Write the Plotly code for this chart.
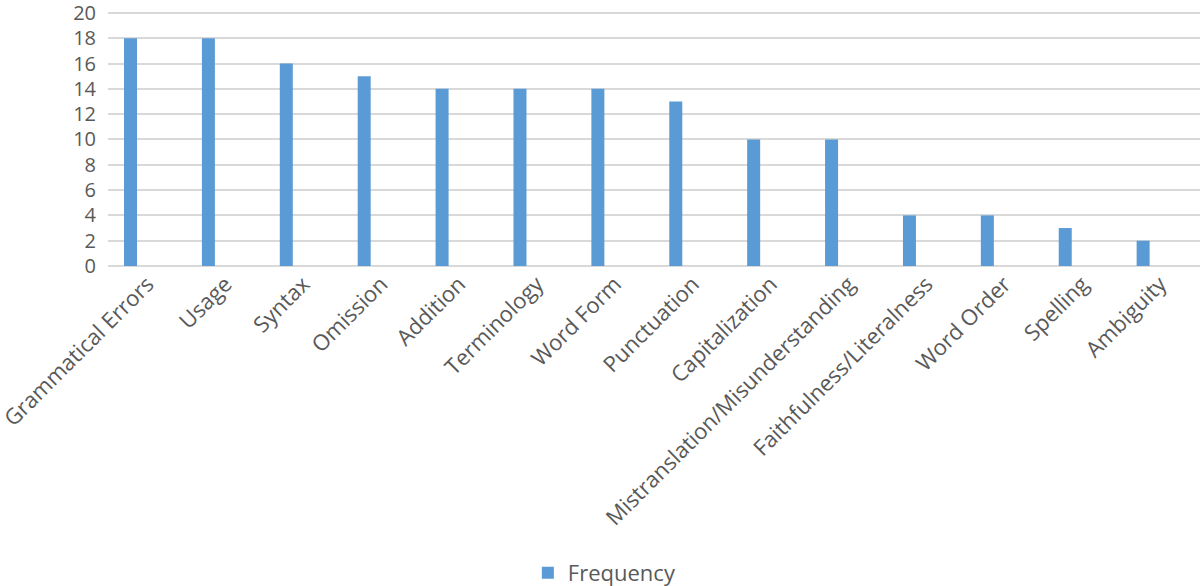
import plotly.graph_objects as go

categories = ["Grammatical Errors", "Usage", "Syntax", "Omission", "Addition", "Terminology",
              "Word Form", "Punctuation", "Capitalization", "Mistranslation/Misunderstanding",
              "Faithfulness/Literalness", "Word Order", "Spelling", "Ambiguity"]
frequency = [18, 18, 16, 15, 14, 14, 14, 13, 10, 10, 4, 4, 3, 2]
y_ticks = list(range(0, 21, 2))

fig = go.Figure()
fig.add_trace(go.Bar(x=categories, y=frequency, name="Frequency",
                     marker=dict(color="#5B9BD5", line=dict(width=0)), width=0.167))

font = "Open Sans, Liberation Sans, sans-serif"
fig.update_layout(
    width=1200, height=586,
    paper_bgcolor="white", plot_bgcolor="white",
    margin=dict(l=108, r=0, t=11, b=320, autoexpand=False),
    font=dict(family=font, color="#595959", size=20),
    showlegend=True,
    legend=dict(orientation="h", x=0.455, xanchor="center", y=-1.204, yanchor="middle",
                font=dict(size=22, color="#595959"), itemwidth=30),
)
fig.update_xaxes(type="category", range=[-0.289, 13.73], tickangle=-45, showgrid=False,
                 showline=False, ticks="", tickfont=dict(size=22, color="#595959"),
                 automargin=False, ticklabelshift=17, ticklabeloverflow="allow")
fig.update_yaxes(range=[0, 20.15], tickvals=y_ticks, showgrid=True, gridcolor="#D9D9D9",
                 gridwidth=2, zeroline=True, zerolinecolor="#D9D9D9", zerolinewidth=2,
                 ticks="", tickfont=dict(size=20, color="#595959"), automargin=False,
                 ticklabelstandoff=11, ticklabeloverflow="allow")

fig.write_html("out.html", config={"displayModeBar": False},
               post_script="document.body.style.margin='0';document.body.style.padding='0';")
